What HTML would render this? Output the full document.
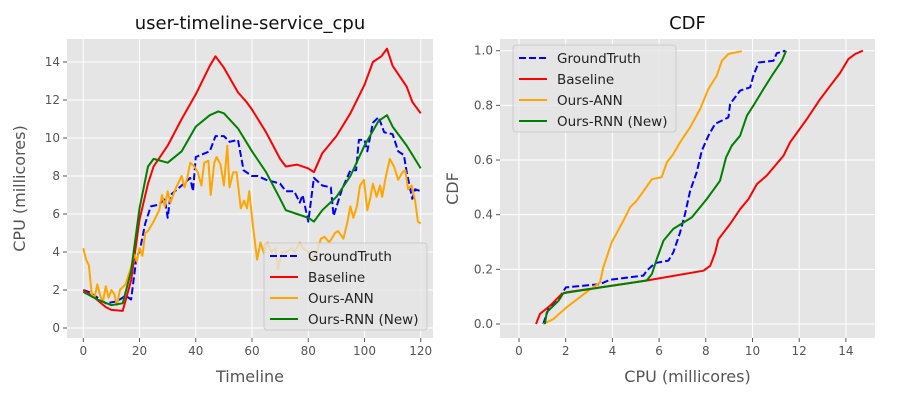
<!DOCTYPE html>
<html><head><meta charset="utf-8"><style>
body{margin:0;background:#fff;}
svg{display:block;font-family:"DejaVu Sans","Liberation Sans",sans-serif;}
</style></head><body>
<svg id="chart" width="900" height="400"></svg>
<script>
// ---- Left chart data ----
const gtT=[0,2,5,8,12,15,17,19,20,22,24,27,29,30,31,35,38,39,40,45,47,50,52,55,57,60,62,65,70,72,75,77,78,80,82,85,88,89,92,95,97,98,100,101,103,105,107,110,112,114,115,117,118,120];
const gtV=[2.0,1.9,1.6,1.3,1.4,1.7,1.5,3.8,4.0,5.5,6.4,6.5,6.8,5.8,7.0,7.5,7.9,7.2,9.0,9.3,10.1,10.1,9.8,9.9,8.3,8.0,8.0,7.8,7.6,7.2,7.2,6.6,7.0,5.6,7.9,7.5,7.4,5.9,7.3,8.3,8.3,9.9,9.9,9.3,10.8,11.1,10.3,10.2,9.3,9.1,8.2,6.8,7.3,7.2];
const blT=[0,4,8,10,14,17,20,23,25,30,35,40,45,47,50,55,58,60,65,70,72,76,80,82,85,90,95,100,103,106,108,110,115,117,120];
const blV=[2.0,1.6,1.1,0.95,0.9,2.5,5.7,7.6,8.5,9.6,11.0,12.3,13.8,14.3,13.7,12.4,11.9,11.5,10.3,8.9,8.5,8.6,8.4,8.2,9.2,10.1,11.3,12.8,14.0,14.3,14.7,13.8,12.7,11.9,11.3];
const annT=[0,1,2,3,4,5,6,7,8,9,10,11,12,13,15,17,18,19,20,21,22,23,25,27,28,29,30,31,33,35,36,37,38,39.5,40.7,42,43,44.5,45.3,46.6,47.4,48.8,50,51.2,52,53.3,54.5,56,57.2,58.2,59,60.3,61.8,63,64.3,65.5,66.9,68.3,69.2,70.6,72.4,74,75.2,77,78.2,80,81,83,84.5,85.8,87.5,89.5,90.6,92.5,93.8,95,96,97.3,98.4,99.8,101,102,103,104.3,105.5,106.3,107.5,109,110.5,112,113.5,114.5,115.5,116.8,118,119,120];
const annV=[4.2,3.6,3.3,1.8,1.6,2.3,1.7,1.4,2.2,1.6,2.0,1.8,1.2,2.0,2.3,3.2,3.9,3.5,4.2,3.8,5.0,5.1,5.6,6.2,7.0,6.4,7.2,6.6,7.4,8.0,7.4,7.9,8.7,8.5,8.2,7.5,8.7,8.8,7.0,8.7,9.0,8.6,7.5,9.6,7.4,8.2,8.2,6.3,6.7,6.3,7.2,5.4,3.6,4.5,3.9,4.5,4.0,4.2,3.1,4.0,4.0,4.2,4.0,4.5,4.2,4.0,3.5,4.0,4.7,4.8,4.5,5.0,5.1,4.7,5.5,6.4,5.8,6.4,7.5,7.8,6.2,6.8,7.6,6.9,7.5,6.9,7.9,8.9,8.5,7.8,8.2,8.3,7.3,7.5,6.7,5.6,5.5];
const rnnT=[0,5,10,14,17,20,23,25,30,35,40,45,48,50,55,60,65,70,72,76,80,82,85,90,95,100,105,108,110,115,120];
const rnnV=[1.9,1.5,1.2,1.3,3.0,6.3,8.5,8.9,8.7,9.3,10.6,11.2,11.4,11.3,10.5,9.3,8.2,6.8,6.2,6.0,5.8,5.6,6.2,6.9,8.0,9.6,10.9,11.2,10.6,9.6,8.4];
const xTicksL=[0,20,40,60,80,100,120];
const yTicksL=[0,2,4,6,8,10,12,14];
// ---- Right chart (CDF) data ----
const cdfGtX=[1.04,1.26,1.83,2.01,3.47,3.9,5.33,5.47,5.83,6.4,6.61,6.9,7.11,7.33,7.61,7.83,8.11,8.4,8.97,9.04,9.47,9.9,10.04,10.26,10.9,11.04,11.4];
const cdfGtY=[0,0.055,0.11,0.134,0.146,0.162,0.177,0.195,0.223,0.232,0.262,0.335,0.402,0.488,0.555,0.634,0.689,0.732,0.756,0.805,0.854,0.866,0.909,0.957,0.963,0.991,1.0];
const cdfBlX=[0.73,0.9,1.33,1.83,2.04,5.47,7.9,8.19,8.4,8.54,9.04,9.47,9.83,10.19,10.61,11.33,11.61,12.33,12.9,13.33,13.76,14.11,14.4,14.73];
const cdfBlY=[0,0.037,0.067,0.11,0.116,0.159,0.195,0.213,0.26,0.31,0.366,0.42,0.457,0.512,0.543,0.616,0.665,0.75,0.823,0.872,0.92,0.97,0.988,1.0];
const cdfAnnX=[1.04,1.47,2.04,2.97,3.47,3.61,3.97,4.47,4.76,5.04,5.69,6.11,6.33,6.61,6.9,7.33,7.76,8.11,8.47,8.69,8.97,9.54];
const cdfAnnY=[0,0.018,0.061,0.122,0.152,0.207,0.299,0.378,0.427,0.451,0.53,0.537,0.591,0.622,0.665,0.72,0.787,0.86,0.909,0.963,0.988,0.998];
const cdfRnnX=[1.11,1.19,1.69,1.9,5.47,5.69,5.9,6.19,6.61,7.4,8.04,8.61,8.87,9.11,9.47,9.76,10.04,10.47,10.83,11.26,11.44];
const cdfRnnY=[0,0.043,0.085,0.113,0.159,0.183,0.238,0.305,0.348,0.39,0.457,0.524,0.61,0.652,0.689,0.762,0.799,0.86,0.909,0.963,1.0];
const xTicksR=[0,2,4,6,8,10,12,14];
const yTicksR=[0.0,0.2,0.4,0.6,0.8,1.0];

const NS='http://www.w3.org/2000/svg';
const svg=document.getElementById('chart');
function el(tag,attrs,parent,text){const e=document.createElementNS(NS,tag);for(const k in attrs)e.setAttribute(k,attrs[k]);if(text!==undefined)e.textContent=text;(parent||svg).appendChild(e);return e;}

function panel(o){
  const g=el('g',{});
  
  
  const bg=el('rect',{x:o.x0,y:o.y0,width:o.x1-o.x0,height:o.y1-o.y0,fill:'#e5e5e5'},g);
  
  
  o.xt.forEach(v=>{const px=o.sx(v);
    el('line',{x1:px,x2:px,y1:o.y0,y2:o.y1,stroke:'#fff','stroke-width':1},g);
    el('line',{x1:px,x2:px,y1:o.y1,y2:o.y1+4,stroke:'#555','stroke-width':1},g);
    const t=el('text',{x:px,y:o.y1+17,'text-anchor':'middle','font-size':12,fill:'#555'},g,o.xf(v));
    
    
  });
  o.yt.forEach(v=>{const py=o.sy(v);
    el('line',{x1:o.x0,x2:o.x1,y1:py,y2:py,stroke:'#fff','stroke-width':1},g);
    el('line',{x1:o.x0-4,x2:o.x0,y1:py,y2:py,stroke:'#555','stroke-width':1},g);
    const t=el('text',{x:o.x0-7,y:py+4,'text-anchor':'end','font-size':12,fill:'#555'},g,o.yf(v));
    
    
  });
  const tt=el('text',{x:(o.x0+o.x1)/2,y:o.y0-10,'text-anchor':'middle','font-size':18,fill:'#111'},g,o.title);
  
  
  const xl=el('text',{x:(o.x0+o.x1)/2,y:o.y1+44,'text-anchor':'middle','font-size':16,fill:'#555'},g,o.xlab);
  
  
  const cx=o.x0-42,cy=(o.y0+o.y1)/2;
  const yl=el('text',{x:cx,y:cy,'text-anchor':'middle','font-size':16,fill:'#555',transform:`rotate(-90 ${cx} ${cy})`},g,o.ylab);
  
  
  const cl='clip'+o.name;
  const cp=el('clipPath',{id:cl},g);el('rect',{x:o.x0,y:o.y0,width:o.x1-o.x0,height:o.y1-o.y0},cp);
  const sg=el('g',{'clip-path':`url(#${cl})`},g);
  o.series.forEach(s=>{
    const d=s.xs.map((x,i)=>(i?'L':'M')+o.sx(x).toFixed(1)+','+o.sy(s.ys[i]).toFixed(1)).join('');
    const p=el('path',{d:d,fill:'none',stroke:s.c,'stroke-width':2,'stroke-linejoin':'round'},sg);
    if(s.dash)p.setAttribute('stroke-dasharray','7,3');
    
    
  });
  const L=o.leg;
  const lg=el('g',{},g);
  
  
  el('rect',{x:L.x,y:L.y,width:163,height:87,rx:3,fill:'#e5e5e5','fill-opacity':0.8,stroke:'#ccc'},lg);
  const labels=['GroundTruth','Baseline','Ours-ANN','Ours-RNN (New)'];
  o.series.forEach((s,i)=>{const yy=L.y+13+i*21;
    const ln=el('line',{x1:L.x+6,x2:L.x+34,y1:yy,y2:yy,stroke:s.c,'stroke-width':2});
    lg.appendChild(ln);
    if(s.dash)ln.setAttribute('stroke-dasharray','7,3');
    const t=el('text',{x:L.x+44,y:yy+5,'font-size':13.5,fill:'#222'},lg,labels[i]);
    
    
  });
}

panel({name:'timeline-panel',x0:67,x1:433,y0:39,y1:338,
  sx:v=>83.3+v*2.812,sy:v=>328-v*19,xt:xTicksL,yt:yTicksL,xf:v=>String(v),yf:v=>String(v),
  title:'user-timeline-service_cpu',xlab:'Timeline',ylab:'CPU (millicores)',leg:{x:264,y:243},
  series:[{xs:gtT,ys:gtV,c:'#0000ff',dash:true,n:'groundtruth-line'},{xs:blT,ys:blV,c:'#ff0000',n:'baseline-line'},
          {xs:annT,ys:annV,c:'#ffa500',n:'ours-ann-line'},{xs:rnnT,ys:rnnV,c:'#008000',n:'ours-rnn-line'}]});
panel({name:'cdf-panel',x0:500,x1:875,y0:39,y1:338,
  sx:v=>519+v*23.35,sy:v=>324-v*273.3,xt:xTicksR,yt:yTicksR,xf:v=>String(v),yf:v=>v.toFixed(1),
  title:'CDF',xlab:'CPU (millicores)',ylab:'CDF',leg:{x:513,y:45},
  series:[{xs:cdfGtX,ys:cdfGtY,c:'#0000ff',dash:true,n:'groundtruth-cdf'},{xs:cdfBlX,ys:cdfBlY,c:'#ff0000',n:'baseline-cdf'},
          {xs:cdfAnnX,ys:cdfAnnY,c:'#ffa500',n:'ours-ann-cdf'},{xs:cdfRnnX,ys:cdfRnnY,c:'#008000',n:'ours-rnn-cdf'}]});
</script>
</body></html>
